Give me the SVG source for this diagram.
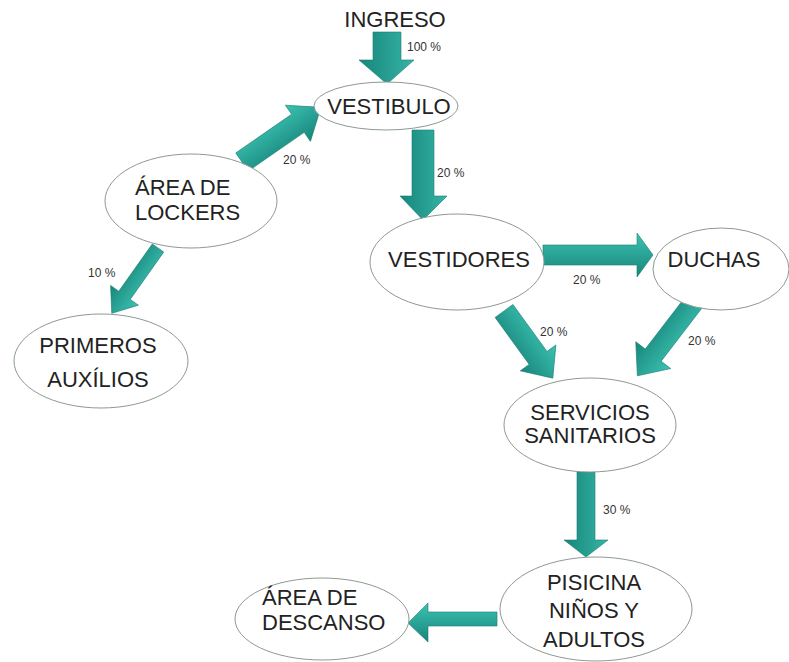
<svg xmlns="http://www.w3.org/2000/svg" width="789" height="662" viewBox="0 0 789 662">
<defs>
<linearGradient id="g" x1="0" y1="0" x2="0" y2="1">
<stop offset="0" stop-color="#3cc2b2"/>
<stop offset="1" stop-color="#17857a"/>
</linearGradient>
<linearGradient id="gv" x1="0" y1="0" x2="1" y2="0">
<stop offset="0" stop-color="#17857a"/>
<stop offset="1" stop-color="#35b5a6"/>
</linearGradient>
</defs>
<style>
.node ellipse{fill:#fff;stroke:#8c9a92;stroke-width:1}
.node text{font-family:"Liberation Sans",Arial,sans-serif;font-size:22px;fill:#222}
.pct{font-family:"Liberation Sans",Arial,sans-serif;font-size:12px;fill:#333}
.arr{stroke:#1a7d72;stroke-width:0.6}
</style>
<rect width="789" height="662" fill="#fff"/>
<g id="ingreso" class="node"><text x="395" y="27" text-anchor="middle">INGRESO</text></g>
<g id="connectors">
<polygon class="arr" fill="url(#gv)" points="373,32 401,32 401,60 414,60 387,84 359,60 373,60"/>
<polygon class="arr" fill="url(#g)" transform="translate(242,162) rotate(-34.7)" points="0,-11 68,-11 68,-22 96,0 68,22 68,11 0,11"/>
<polygon class="arr" fill="url(#gv)" points="412,130 434,130 434,196 447,196 423,220 400,196 412,196"/>
<polygon class="arr" fill="url(#g)" transform="translate(158,248) rotate(125.3)" points="0,-7 58,-7 58,-17 80,0 58,17 58,7 0,7"/>
<polygon class="arr" fill="url(#g)" points="543,245 637,245 637,233 653,255 637,277 637,265 543,265"/>
<polygon class="arr" fill="url(#g)" transform="translate(504,311) rotate(54)" points="0,-11 58,-11 58,-22 83,0 58,22 58,11 0,11"/>
<polygon class="arr" fill="url(#g)" transform="translate(694,302) rotate(127.5)" points="0,-10 67,-10 67,-22 93,0 67,22 67,10 0,10"/>
<polygon class="arr" fill="url(#gv)" points="577,472 595,472 595,540 608,540 586,557 564,540 577,540"/>
<polygon class="arr" fill="url(#g)" points="497,612 428,612 428,603 408,623 428,642 428,626 497,626"/>
<text class="pct" x="407" y="51">100 %</text>
<text class="pct" x="283" y="164">20 %</text>
<text class="pct" x="437" y="177">20 %</text>
<text class="pct" x="88" y="277">10 %</text>
<text class="pct" x="573" y="284">20 %</text>
<text class="pct" x="540" y="336">20 %</text>
<text class="pct" x="688" y="345">20 %</text>
<text class="pct" x="603" y="514">30 %</text>
</g>
<g id="vestibulo" class="node"><ellipse cx="386" cy="106" rx="72" ry="24"/><text x="389" y="114" text-anchor="middle">VESTIBULO</text></g>
<g id="lockers" class="node"><ellipse cx="191" cy="201" rx="86" ry="47"/><text x="135" y="195">ÁREA DE</text><text x="135" y="220">LOCKERS</text></g>
<g id="primeros" class="node"><ellipse cx="101" cy="361" rx="87" ry="47"/><text x="98" y="353" text-anchor="middle">PRIMEROS</text><text x="98" y="387" text-anchor="middle">AUXÍLIOS</text></g>
<g id="vestidores" class="node"><ellipse cx="457" cy="262" rx="87" ry="48"/><text x="459" y="267" text-anchor="middle">VESTIDORES</text></g>
<g id="duchas" class="node"><ellipse cx="721" cy="269" rx="68" ry="41"/><text x="714" y="267" text-anchor="middle">DUCHAS</text></g>
<g id="servicios" class="node"><ellipse cx="590" cy="425" rx="86" ry="47"/><text x="590" y="420" text-anchor="middle">SERVICIOS</text><text x="590" y="443" text-anchor="middle">SANITARIOS</text></g>
<g id="piscina" class="node"><ellipse cx="596" cy="609" rx="96" ry="52"/><text x="594" y="590" text-anchor="middle">PISICINA</text><text x="594" y="618" text-anchor="middle">NIÑOS Y</text><text x="594" y="647" text-anchor="middle">ADULTOS</text></g>
<g id="descanso" class="node"><ellipse cx="322" cy="619" rx="87" ry="41"/><text x="262" y="605">ÁREA DE</text><text x="262" y="630">DESCANSO</text></g>
</svg>
